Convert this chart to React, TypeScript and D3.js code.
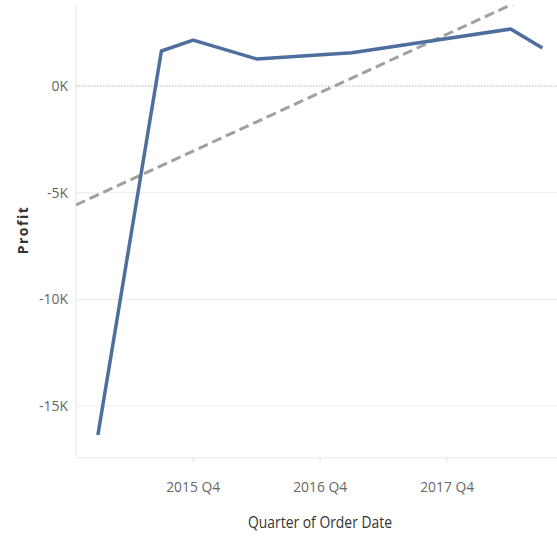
import React from "react";
import * as d3 from "d3";

const quarters = ["2015 Q1", "2015 Q3", "2015 Q4", "2016 Q2", "2017 Q1", "2018 Q2", "2018 Q3"];
const profit = [-16350, 1640, 2150, 1270, 1560, 2670, 1780];
const xTickLabels = ["2015 Q4", "2016 Q4", "2017 Q4"];
const yTicks = [0, -5000, -10000, -15000];
const yTickLabels = ["0K", "-5K", "-10K", "-15K"];
const trendQuarters = ["2015 Q1", "2018 Q3"];
const trendValues = [-5100, 4480];

const W = 557, H = 538;
const left = 76, right = 557, top = 5, bottom = 458;

const qIndex = (s: string) => {
  const [y, q] = s.split(" Q");
  return (+y - 2015) * 4 + (+q - 1);
};

export default function App() {
  const x = d3.scaleLinear().domain([-0.69, 14.46]).range([left, right]);
  const y = d3.scaleLinear().domain([-17430, 3796]).range([bottom, top]);
  const pts = quarters.map((q, i) => [x(qIndex(q)), y(profit[i])] as [number, number]);
  const line = d3.line()(pts) || "";
  const t0 = qIndex(trendQuarters[0]), t1 = qIndex(trendQuarters[1]);
  const slope = (trendValues[1] - trendValues[0]) / (t1 - t0);
  const [d0, d1] = x.domain();
  const trendPts: [number, number][] = [
    [x(d0), y(trendValues[0] + slope * (d0 - t0))],
    [x(d1), y(trendValues[0] + slope * (d1 - t0))],
  ];
  const font = "'Open Sans', sans-serif";
  return (
    <svg width={W} height={H} style={{ position: "absolute", left: 0, top: 0, background: "#fff" }}>
      <defs>
        <clipPath id="plot">
          <rect x={left} y={top} width={right - left} height={bottom - top} />
        </clipPath>
      </defs>
      {yTicks.map((t, i) =>
        t === 0 ? null : (
          <line key={i} x1={left} x2={right} y1={y(t)} y2={y(t)} stroke="#ececec" strokeWidth={1} />
        )
      )}
      <line x1={left} x2={left} y1={top} y2={bottom} stroke="#e6e6e6" />
      <line x1={left} x2={right} y1={bottom} y2={bottom} stroke="#e6e6e6" />
      <line x1={left} x2={right} y1={y(0)} y2={y(0)} stroke="#b5b5b5" strokeDasharray="1.5,1.5" />
      {xTickLabels.map((t, i) => (
        <g key={i}>
          <line x1={x(qIndex(t))} x2={x(qIndex(t))} y1={bottom} y2={bottom + 5} stroke="#e6e6e6" />
          <text x={x(qIndex(t))} y={492} textAnchor="middle" fontFamily={font} fontSize={14} fill="#666"
            textLength={54} lengthAdjust="spacingAndGlyphs">
            {t}
          </text>
        </g>
      ))}
      {yTicks.map((t, i) => (
        <text key={i} x={68} y={y(t) + 5} textAnchor="end" fontFamily={font} fontSize={14} fill="#666">
          {yTickLabels[i]}
        </text>
      ))}
      <g clipPath="url(#plot)">
        <line
          x1={trendPts[0][0]} y1={trendPts[0][1]} x2={trendPts[1][0]} y2={trendPts[1][1]}
          stroke="#a0a0a0" strokeWidth={3} strokeDasharray="10,5"
        />
        <path d={line} fill="none" stroke="#4e6f9e" strokeWidth={3.5} strokeLinejoin="round" />
      </g>
      <text
        transform={`translate(28,230) rotate(-90)`}
        textAnchor="middle" fontFamily="'Open Sans', sans-serif" fontSize={14} fontWeight="bold"
        fill="#333" letterSpacing={1.5}
      >
        Profit
      </text>
      <text x={320} y={528} textAnchor="middle" fontFamily={font} fontSize={16} fill="#333"
        textLength={144} lengthAdjust="spacingAndGlyphs">
        Quarter of Order Date
      </text>
    </svg>
  );
}
